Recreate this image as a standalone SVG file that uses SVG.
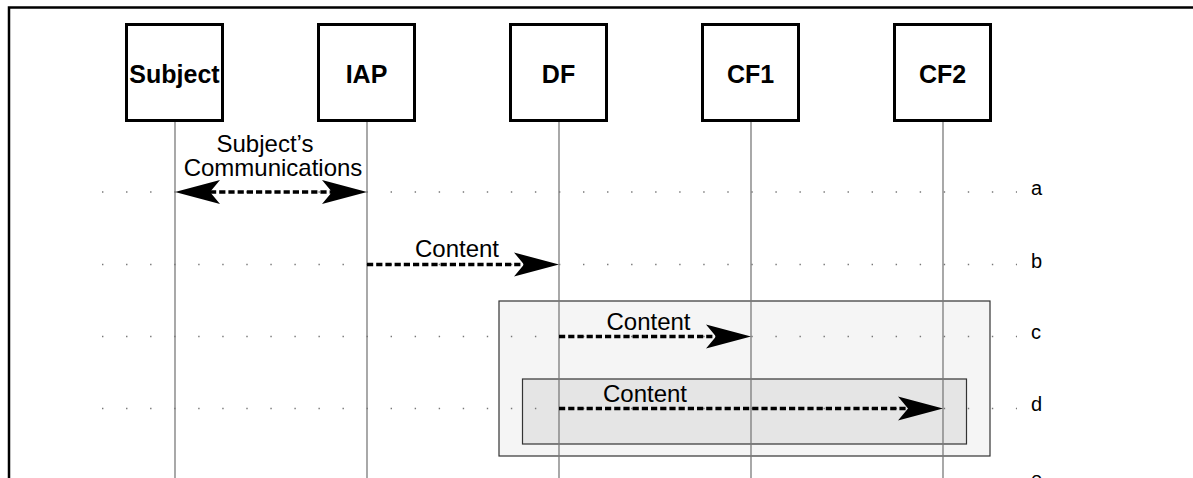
<svg xmlns="http://www.w3.org/2000/svg" width="1193" height="478" viewBox="0 0 1193 478">
<style>
.box{fill:#fff;stroke:#000;stroke-width:3}
.nl{font-family:"Liberation Sans",Arial,sans-serif;font-size:25px;font-weight:bold;text-anchor:middle;fill:#000}
.life{stroke:#7a7a7a;stroke-width:1.3}
.row{stroke:#777;stroke-width:1.4;stroke-dasharray:1.4 22.65}
.msg{stroke:#000;stroke-width:3.4;stroke-dasharray:6.2 3;fill:none}
.lbl{font-family:"Liberation Sans",Arial,sans-serif;font-size:24px;fill:#000}
.tag{font-family:"Liberation Sans",Arial,sans-serif;font-size:20px;fill:#000}
</style>
<defs>
<marker id="ah" viewBox="-46 -13 47 26" refX="-35" refY="0" markerWidth="47" markerHeight="26" markerUnits="userSpaceOnUse" orient="auto-start-reverse">
<path d="M0,0 L-45,-12 L-35,0 L-45,12 Z" fill="#000"/>
</marker>
</defs>
<rect width="1193" height="478" fill="#fff"/>
<path d="M9,490 V7.5 H1200" fill="none" stroke="#000" stroke-width="2.5"/>
<g id="frames">
<rect x="499" y="301" width="491" height="155" fill="#f5f5f5" stroke="#333" stroke-width="1.2"/>
<rect x="522.5" y="379" width="444" height="65" fill="#e5e5e5" stroke="#333" stroke-width="1.2"/>
</g>
<g id="rows">
<line class="row" x1="102" y1="192" x2="1017" y2="192"/>
<line class="row" x1="102" y1="264.5" x2="1017" y2="264.5"/>
<line class="row" x1="102" y1="336.5" x2="1017" y2="336.5"/>
<line class="row" x1="102" y1="408.5" x2="1017" y2="408.5"/>
</g>
<g id="lifelines">
<line class="life" x1="175" y1="121" x2="175" y2="478"/>
<line class="life" x1="367" y1="121" x2="367" y2="478"/>
<line class="life" x1="559" y1="121" x2="559" y2="478"/>
<line class="life" x1="751" y1="121" x2="751" y2="478"/>
<line class="life" x1="943" y1="121" x2="943" y2="478"/>
</g>
<g id="node-subject"><rect class="box" x="126.5" y="24.5" width="96" height="96"/><text class="nl" x="174.5" y="83">Subject</text></g>
<g id="node-iap"><rect class="box" x="318.5" y="24.5" width="96" height="96"/><text class="nl" x="366.5" y="83">IAP</text></g>
<g id="node-df"><rect class="box" x="510.5" y="24.5" width="96" height="96"/><text class="nl" x="558.5" y="83">DF</text></g>
<g id="node-cf1"><rect class="box" x="702.5" y="24.5" width="96" height="96"/><text class="nl" x="750.5" y="83">CF1</text></g>
<g id="node-cf2"><rect class="box" x="894.5" y="24.5" width="96" height="96"/><text class="nl" x="942.5" y="83">CF2</text></g>
<g id="connectors">
<line class="msg" x1="210" y1="192" x2="332" y2="192" marker-start="url(#ah)" marker-end="url(#ah)"/>
<line class="msg" x1="367" y1="264.5" x2="524" y2="264.5" marker-end="url(#ah)"/>
<line class="msg" x1="559" y1="336.5" x2="716" y2="336.5" marker-end="url(#ah)"/>
<line class="msg" x1="559" y1="408.5" x2="908" y2="408.5" marker-end="url(#ah)"/>
</g>
<g id="labels">
<text class="lbl" x="265" y="151.5" text-anchor="middle">Subject’s</text>
<text class="lbl" x="273" y="176" text-anchor="middle">Communications</text>
<text class="lbl" x="457" y="257" text-anchor="middle">Content</text>
<text class="lbl" x="648.5" y="329.5" text-anchor="middle">Content</text>
<text class="lbl" x="645" y="401.5" text-anchor="middle">Content</text>
<text class="tag" x="1031" y="195">a</text>
<text class="tag" x="1031" y="268">b</text>
<text class="tag" x="1031" y="339">c</text>
<text class="tag" x="1031" y="411">d</text>
<text class="tag" x="1031" y="486">e</text>
</g>
</svg>
